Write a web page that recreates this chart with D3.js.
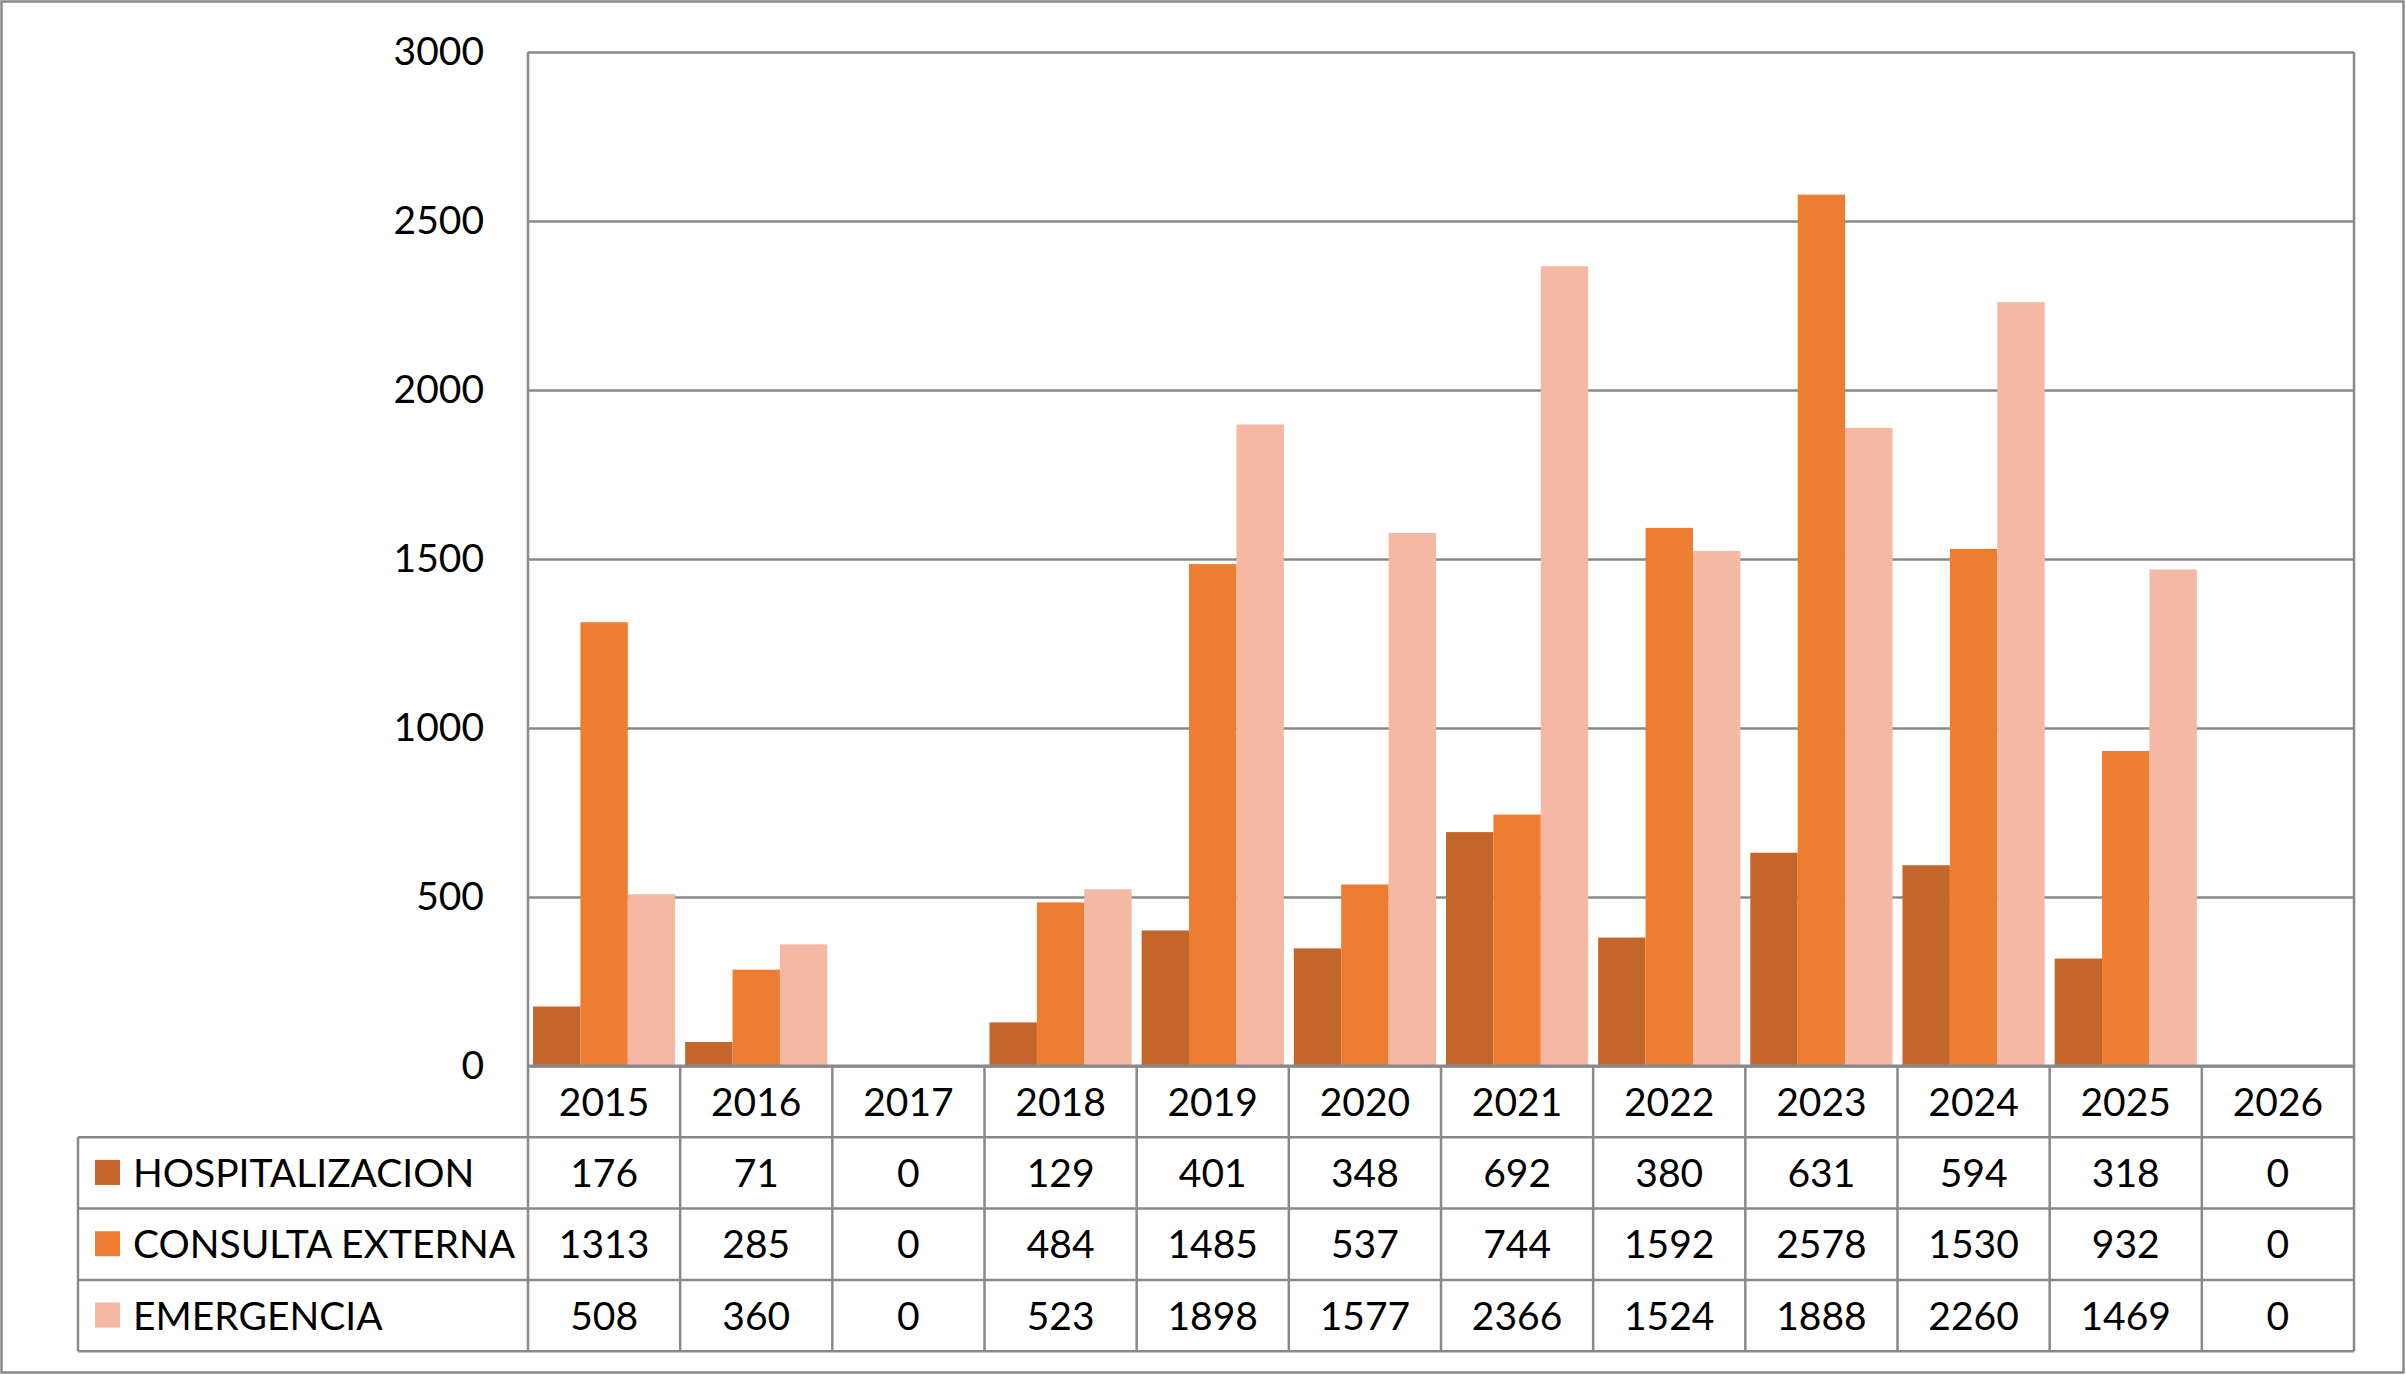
<html>
<head>
	<meta charset="utf-8">
	<title>atenciones por año</title>
	<script src="https://d3js.org/d3.v7.min.js"></script>
	<style type="text/css">
		body{ margin:0; background:#fff; }
		.axis path{ display:none; }
		.axis line{ stroke:#898989; stroke-width:2.5; }
		.axis text{ font-family:Lato, "Open Sans", sans-serif; font-size:39px; fill:#000; }
		.cell{ font-family:Lato, "Open Sans", sans-serif; font-size:39px; fill:#000; }
	</style>
</head>
<body>
	<script type="text/javascript">

		// datos
		var years = ["2015","2016","2017","2018","2019","2020","2021","2022","2023","2024","2025","2026"];
		var seriesNames = ["HOSPITALIZACION","CONSULTA EXTERNA","EMERGENCIA"];
		var hospitalizacion = [176,71,0,129,401,348,692,380,631,594,318,0];
		var consultaExterna = [1313,285,0,484,1485,537,744,1592,2578,1530,932,0];
		var emergencia = [508,360,0,523,1898,1577,2366,1524,1888,2260,1469,0];
		var yTicks = [0,500,1000,1500,2000,2500,3000];

		var colors = ["#C4662B","#ED7D31","#F4B8A5"];
		var seriesValues = [hospitalizacion, consultaExterna, emergencia];

		var w = 2406, h = 1375;
		var plotLeft = 528, plotRight = 2354, plotTop = 52, plotBottom = 1066;
		var rowH = 71.3;          // alto de cada fila de la tabla
		var tableLeft = 78;
		var grey = "#898989";

		var svg = d3.select("body").append("svg")
			.attr("width", w)
			.attr("height", h);

		// borde exterior
		svg.append("rect")
			.attr("x", 1.5).attr("y", 1.5)
			.attr("width", w - 4).attr("height", h - 4)
			.attr("fill", "white")
			.attr("stroke", grey)
			.attr("stroke-width", 2.5);

		var xScale = d3.scaleBand()
			.domain(years)
			.range([plotLeft, plotRight])
			.paddingInner(0)
			.paddingOuter(0);

		var xInner = d3.scaleBand()
			.domain(seriesNames)
			.range([0, xScale.bandwidth()])
			.paddingInner(0)
			.paddingOuter(0.105);

		var yScale = d3.scaleLinear()
			.domain([0, 3000])
			.range([plotBottom, plotTop]);

		// eje y con lineas de cuadricula
		var yAxis = d3.axisLeft(yScale)
			.tickValues(yTicks)
			.tickSize(-(plotRight - plotLeft))
			.tickPadding(44)
			.tickFormat(d3.format("d"));

		svg.append("g")
			.attr("class", "axis")
			.attr("transform", "translate(" + plotLeft + ",0)")
			.call(yAxis);

		// barras
		var rows = [];
		years.forEach(function(y, i){
			seriesNames.forEach(function(s, j){
				rows.push({ year: y, serie: s, value: seriesValues[j][i], color: colors[j] });
			});
		});

		svg.append("g").selectAll("rect")
			.data(rows)
			.enter()
			.append("rect")
			.attr("x", function(d){ return xScale(d.year) + xInner(d.serie); })
			.attr("width", xInner.bandwidth())
			.attr("y", function(d){ return yScale(d.value); })
			.attr("height", function(d){ return yScale(0) - yScale(d.value); })
			.attr("fill", function(d){ return d.color; });

		// marco del area de trazado
		var lines = svg.append("g")
			.attr("stroke", grey)
			.attr("stroke-width", 2.5)
			.attr("fill", "none");

		lines.append("line").attr("x1", plotLeft).attr("x2", plotLeft).attr("y1", plotTop).attr("y2", plotBottom + rowH * 4);
		lines.append("line").attr("x1", plotRight).attr("x2", plotRight).attr("y1", plotTop).attr("y2", plotBottom + rowH * 4);
		lines.append("line").attr("x1", plotLeft).attr("x2", plotRight).attr("y1", plotBottom).attr("y2", plotBottom).attr("stroke-width", 3);

		// tabla de datos
		for (var r = 1; r <= 4; r++) {
			lines.append("line")
				.attr("x1", tableLeft).attr("x2", plotRight)
				.attr("y1", plotBottom + rowH * r).attr("y2", plotBottom + rowH * r);
		}
		lines.append("line")
			.attr("x1", tableLeft).attr("x2", tableLeft)
			.attr("y1", plotBottom + rowH).attr("y2", plotBottom + rowH * 4);

		lines.selectAll(".col")
			.data(years.slice(1))
			.enter()
			.append("line")
			.attr("x1", function(d){ return xScale(d); })
			.attr("x2", function(d){ return xScale(d); })
			.attr("y1", plotBottom)
			.attr("y2", plotBottom + rowH * 4);

		// encabezado de años
		svg.append("g").selectAll("text")
			.data(years)
			.enter()
			.append("text")
			.attr("class", "cell")
			.attr("x", function(d){ return xScale(d) + xScale.bandwidth() / 2; })
			.attr("y", plotBottom + rowH / 2)
			.attr("dy", "0.36em")
			.attr("text-anchor", "middle")
			.text(function(d){ return d; });

		// filas de valores
		seriesNames.forEach(function(s, j){
			var cy = plotBottom + rowH * (j + 1) + rowH / 2;
			var g = svg.append("g");

			g.append("rect")
				.attr("x", 95).attr("y", cy - 13)
				.attr("width", 25).attr("height", 25)
				.attr("fill", colors[j]);

			g.append("text")
				.attr("class", "cell")
				.attr("x", 133)
				.attr("y", cy)
				.attr("dy", "0.36em")
				.text(s);

			g.selectAll(".v")
				.data(seriesValues[j])
				.enter()
				.append("text")
				.attr("class", "cell")
				.attr("x", function(d, i){ return xScale(years[i]) + xScale.bandwidth() / 2; })
				.attr("y", cy)
				.attr("dy", "0.36em")
				.attr("text-anchor", "middle")
				.text(function(d){ return d; });
		});

	</script>
</body>
</html>
